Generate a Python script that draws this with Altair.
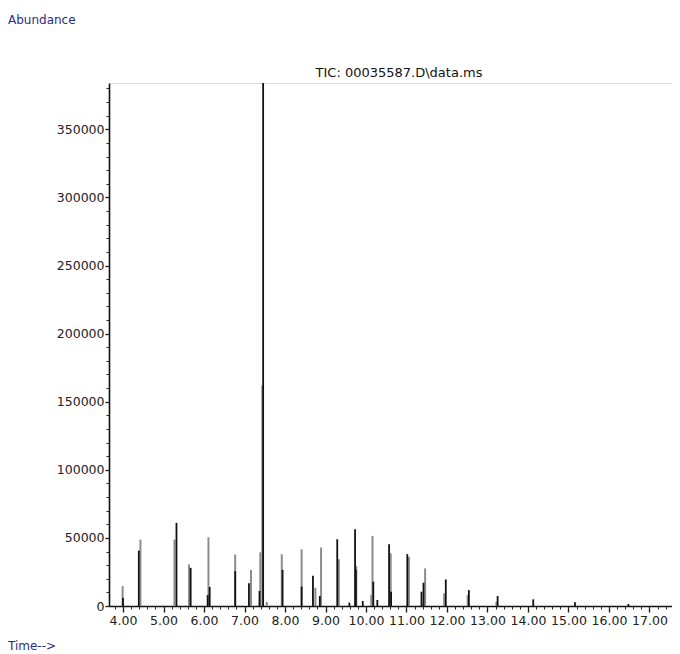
import altair as alt
import pandas as pd

# Light (grey) traces of each peak: retention time (min), abundance
gray_time = [3.99, 4.43, 5.27, 5.63, 6.11, 6.77, 7.16, 7.39, 7.44, 7.55, 7.92, 8.41,
             8.75, 8.89, 9.33, 9.76, 10.13, 10.16, 10.61, 11.06, 11.46, 11.93, 12.51, 13.22]
gray_abund = [14600, 48800, 48800, 30500, 50500, 37800, 26500, 39400, 162000, 3000, 38000, 41700,
              13400, 42900, 34300, 29300, 8100, 51500, 38700, 36100, 27600, 9300, 8000, 3200]

# Dark (black) traces of each peak
black_time = [4.00, 4.39, 5.32, 5.67, 6.09, 6.14, 6.77, 7.11, 7.37, 7.46, 7.94, 8.41,
              8.69, 8.86, 9.29, 9.59, 9.73, 9.75, 9.92, 10.18, 10.28, 10.57, 10.62, 11.02,
              11.37, 11.42, 11.97, 12.54, 13.25, 14.13, 15.16, 16.48]
black_abund = [6100, 40700, 61000, 28000, 8000, 14000, 25600, 16700, 11000, 384000, 26500, 14200,
               22200, 7300, 49000, 2500, 56300, 26500, 3700, 17900, 4400, 45300, 10500, 38100,
               10500, 17100, 19500, 11700, 7300, 4900, 2700, 1500]

x_major = [4, 5, 6, 7, 8, 9, 10, 11, 12, 13, 14, 15, 16, 17]
x_minor = [round(3.8 + 0.2 * i, 1) for i in range(69)]
y_major = [0, 50000, 100000, 150000, 200000, 250000, 300000, 350000]
y_minor = [10000 * i for i in range(39)]

X_DOMAIN = [3.654, 17.556]
Y_DOMAIN = [0, 384000]

FONT = "DejaVu Sans"

gray_df = pd.DataFrame({"t": gray_time, "a": gray_abund})
black_df = pd.DataFrame({"t": black_time, "a": black_abund})

xs = alt.Scale(domain=X_DOMAIN, nice=False, zero=False)
ys = alt.Scale(domain=Y_DOMAIN, nice=False)

major_x_axis = alt.Axis(values=x_major, format=".2f", tickSize=6, tickWidth=1.3, tickColor="#111",
                        domain=True, domainColor="#111", domainWidth=1.6, labels=True, ticks=True,
                        labelFont=FONT, labelFontSize=12.5,
                        labelColor="#222", labelPadding=2, grid=False, title=None,
                        labelFlush=False, labelOverlap=False, orient="bottom")
major_y_axis = alt.Axis(values=y_major, format="d", tickSize=4, tickWidth=1.3, tickColor="#111",
                        domain=True, domainColor="#111", domainWidth=1.6, labels=True, ticks=True,
                        labelFont=FONT, labelFontSize=12.5,
                        labelColor="#222", labelPadding=1, grid=False, title=None,
                        labelFlush=False, labelOverlap=False, orient="left")
minor_x_axis = alt.Axis(values=x_minor, tickSize=3, tickWidth=1, tickColor="#222", labels=False,
                        ticks=True, domain=False, grid=False, title=None, orient="bottom")
minor_y_axis = alt.Axis(values=y_minor, tickSize=3, tickWidth=1, tickColor="#222", labels=False,
                        ticks=True, domain=False, grid=False, title=None, orient="left")

gray = alt.Chart(gray_df).mark_rule(color="#8c8c8c", strokeWidth=2).encode(
    x=alt.X("t:Q", scale=xs, axis=major_x_axis),
    y=alt.Y("a:Q", scale=ys, axis=major_y_axis),
    y2=alt.datum(0),
)

black = alt.Chart(black_df).mark_rule(color="#111111", strokeWidth=1.8).encode(
    x=alt.X("t:Q", scale=xs, axis=None),
    y=alt.Y("a:Q", scale=ys, axis=None),
    y2=alt.datum(0),
)

minor = alt.Chart(black_df).mark_point(opacity=0, size=1).encode(
    x=alt.X("t:Q", scale=xs, axis=minor_x_axis),
    y=alt.Y("a:Q", scale=ys, axis=minor_y_axis),
)

abund_label = ["Abundance"]
time_label = ["Time-->"]
title_label = ["TIC: 00035587.D\\data.ms"]

abund_text = alt.Chart(pd.DataFrame({"s": abund_label})).mark_text(
    align="left", baseline="middle", font=FONT, fontSize=12, color="#2b2b85"
).encode(x=alt.value(-101), y=alt.value(-63), text="s:N")
time_text = alt.Chart(pd.DataFrame({"s": time_label})).mark_text(
    align="left", baseline="middle", font=FONT, fontSize=12, color="#2b2b85"
).encode(x=alt.value(-101), y=alt.value(563), text="s:N")
title_text = alt.Chart(pd.DataFrame({"s": title_label})).mark_text(
    align="center", baseline="middle", font=FONT, fontSize=13, color="#111"
).encode(x=alt.value(290), y=alt.value(-10), text="s:N")

chart = alt.layer(gray, black, minor, abund_text, time_text, title_text).resolve_axis(
    x="independent", y="independent"
).properties(
    width=563,
    height=523,
    autosize=alt.AutoSizeParams(type="none"),
    padding={"left": 101, "top": 75, "right": 0, "bottom": 50},
).configure_view(stroke=None, fill="white").configure_axis(
    domain=False, ticks=False, labels=False, grid=False
).configure(background="white")

chart.save("out.html", embed_options={"renderer": "svg", "actions": False})
